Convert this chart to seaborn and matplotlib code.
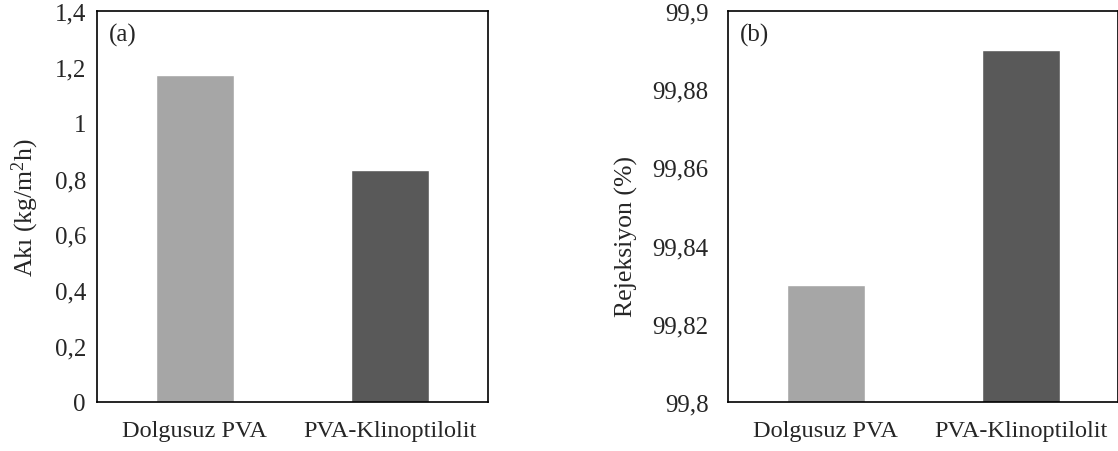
import matplotlib
matplotlib.use('Agg')
import matplotlib.pyplot as plt
import seaborn as sns
from matplotlib.ticker import FuncFormatter, FixedLocator, MultipleLocator

# data
categories = ['Dolgusuz PVA', 'PVA-Klinoptilolit']
flux = [1.17, 0.83]
rejection = [99.83, 99.89]
bar_colors = ['#a6a6a6', '#595959']

sns.set_style("white")
plt.rcParams['font.family'] = ['Liberation Serif', 'DejaVu Serif']
plt.rcParams['mathtext.default'] = 'regular'


def comma_fmt(v, pos):
    return '{:g}'.format(round(v, 6)).replace('.', ',')


def style_axis(ax, ylim, ystep, ylabel, tag, ypad, lpad):
    ax.set_ylim(*ylim)
    ax.set_xlim(-0.5, 1.5)
    ax.yaxis.set_major_locator(MultipleLocator(ystep))
    ax.yaxis.set_major_formatter(FuncFormatter(comma_fmt))
    ax.tick_params(axis='y', length=0, labelsize=18, pad=ypad)
    ax.tick_params(axis='x', which='major', length=0, labelsize=17.5, pad=13)
    ax.xaxis.set_minor_locator(FixedLocator([-0.5, 0.5, 1.5]))
    ax.tick_params(axis='x', which='minor', length=6, width=1.2, direction='out', color='black')
    for s in ax.spines.values():
        s.set_visible(True)
        s.set_color('black')
        s.set_linewidth(1.2)
    ax.set_xlabel('')
    ax.set_ylabel(ylabel, fontsize=18.5, labelpad=lpad)
    ax.text(0.03, 0.94, tag, transform=ax.transAxes, fontsize=18, va='center', ha='left')


fig = plt.figure(figsize=(11.18, 4.52), dpi=100)
ax1 = fig.add_axes([97 / 1118, 1 - 403 / 452, 391 / 1118, 391 / 452])
ax2 = fig.add_axes([728 / 1118, 1 - 403 / 452, 390 / 1118, 391 / 452])

sns.barplot(x=categories, y=flux, hue=categories, palette=bar_colors, width=0.4,
            legend=False, ax=ax1, saturation=1)
sns.barplot(x=categories, y=rejection, hue=categories, palette=bar_colors, width=0.4,
            legend=False, ax=ax2, saturation=1)

style_axis(ax1, (0, 1.4), 0.2, 'Akı (kg/m$^2$h)', '(a)', ypad=8, lpad=10)
style_axis(ax2, (99.8, 99.9), 0.02, 'Rejeksiyon (%)', '(b)', ypad=14, lpad=10)
ax2.yaxis.set_label_coords(-0.231, 0.427)

fig.savefig('out.png', dpi=100)
